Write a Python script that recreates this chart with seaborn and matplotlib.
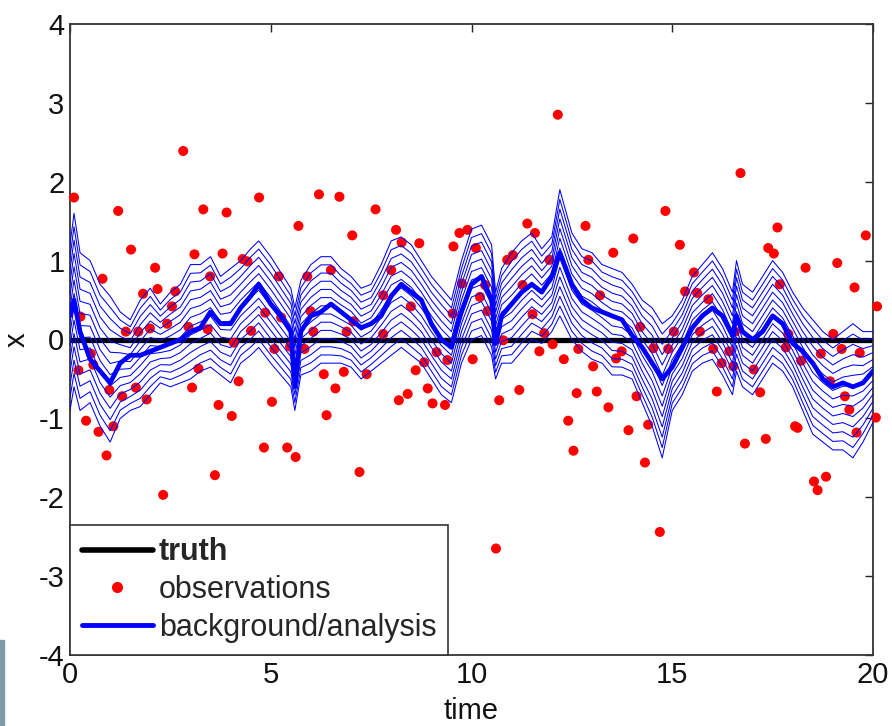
import numpy as np
import pandas as pd
import matplotlib
matplotlib.use("Agg")
import matplotlib.pyplot as plt
import seaborn as sns
from matplotlib.lines import Line2D
from matplotlib.patches import Rectangle

sns.set_theme(style="white")
plt.rcParams["font.family"] = ["Liberation Sans", "DejaVu Sans"]
plt.rcParams["axes.unicode_minus"] = False

# ---- observations ----
obs_time = [
    0.10, 0.21, 0.26, 0.40, 0.52, 0.58, 0.71, 0.81, 0.91, 0.98, 1.08, 1.20, 1.30, 1.39,
    1.52, 1.64, 1.70, 1.82, 1.91, 1.99, 2.12, 2.18, 2.32, 2.42, 2.54, 2.62, 2.82, 2.95,
    3.04, 3.10, 3.20, 3.32, 3.43, 3.49, 3.61, 3.70, 3.80, 3.90, 4.03, 4.08, 4.20, 4.30,
    4.42, 4.51, 4.71, 4.83, 4.86, 5.03, 5.09, 5.20, 5.26, 5.41, 5.48, 5.62, 5.69, 5.84,
    5.91, 5.99, 6.06, 6.20, 6.32, 6.39, 6.50, 6.61, 6.71, 6.82, 6.89, 7.03, 7.06, 7.21,
    7.39, 7.61, 7.80, 7.80, 8.00, 8.12, 8.19, 8.26, 8.41, 8.49, 8.61, 8.70, 8.82, 8.91,
    9.03, 9.13, 9.34, 9.40, 9.53, 9.55, 9.70, 9.76, 9.90, 10.03, 10.11, 10.21, 10.34,
    10.40, 10.61, 10.69, 10.79, 10.89, 11.03, 11.19, 11.27, 11.39, 11.52, 11.58, 11.69,
    11.81, 11.94, 12.02, 12.15, 12.30, 12.41, 12.54, 12.62, 12.66, 12.84, 12.91, 13.03,
    13.12, 13.20, 13.41, 13.53, 13.60, 13.74, 13.91, 14.03, 14.11, 14.20, 14.32, 14.40,
    14.53, 14.69, 14.83, 14.90, 15.04, 15.19, 15.32, 15.54, 15.62, 15.69, 15.90, 16.02,
    16.11, 16.23, 16.42, 16.52, 16.56, 16.70, 16.81, 17.03, 17.19, 17.33, 17.39, 17.53,
    17.62, 17.68, 17.83, 17.89, 18.06, 18.12, 18.21, 18.32, 18.53, 18.62, 18.70, 18.83,
    18.93, 19.01, 19.11, 19.22, 19.30, 19.41, 19.54, 19.59, 19.67, 19.82, 20.07, 20.10,
]
obs_value = [
    1.80, -0.39, 0.29, -1.03, -0.18, -0.32, -1.17, 0.77, -1.47, -0.64, -1.10, 1.63, -0.72, 0.10,
    1.14, -0.61, 0.10, 0.58, -0.76, 0.14, 0.91, 0.64, -1.97, 0.20, 0.42, 0.61, 2.39, 0.16,
    -0.61, 1.08, -0.37, 1.65, 0.13, 0.80, -1.72, -0.83, 1.09, 1.61, -0.97, -0.04, -0.53, 1.02,
    0.99, 0.11, 1.80, -1.37, 0.34, -0.79, -0.12, 0.80, 0.28, -1.37, -0.09, -1.49, 1.44, -0.12,
    0.80, 0.36, 0.10, 1.84, -0.44, -0.96, 0.88, -0.62, 1.81, -0.41, 0.10, 1.32, 0.23, -1.68,
    -0.44, 1.65, 0.56, 0.07, 0.88, 1.39, -0.77, 1.23, -0.69, 0.42, -0.39, 1.22, -0.29, -0.62,
    -0.81, -0.16, -0.83, -0.26, 0.33, 1.18, 1.35, 0.71, 1.39, -0.25, 1.16, 0.54, 0.69,
    0.36, -2.65, -0.77, -0.01, 1.01, 1.07, -0.64, 0.69, 1.47, 0.32, 1.35, -0.15,
    0.08, 1.01, -0.06, 2.85, -0.25, -1.03, -1.41, -0.68, -0.12, 1.44, 1.01, -0.34,
    -0.66, 0.56, -0.86, 1.10, -0.24, -0.15, -1.15, 1.28, -0.72, 0.16, -1.56, -1.08,
    -0.11, -2.44, 1.63, -0.12, 0.10, 1.20, 0.61, 0.85, 0.59, 0.10, 0.51, -0.12,
    -0.66, -0.30, -0.15, -0.34, 0.10, 2.11, -1.32, -0.38, -0.67, -1.26, 1.16, 1.09,
    1.42, 0.70, -0.10, 0.07, -1.10, -1.12, -0.27, 0.91, -1.80, -1.91, -0.18, -1.74,
    -0.53, 0.07, 0.97, -0.12, -0.72, -0.89, 0.66, -1.18, -0.17, 1.32, -0.99, 0.42,
]

# ---- ensemble (background/analysis): mean and envelope ----
ens_time = [
    0.0, 0.1, 0.25, 0.5, 0.75, 1.0, 1.25, 1.5, 1.75, 2.0, 2.25, 2.5, 2.75, 3.0, 3.25, 3.5,
    3.75, 4.0, 4.25, 4.5, 4.7, 5.0, 5.25, 5.5, 5.6, 5.75, 6.0, 6.25, 6.5, 6.75, 7.0, 7.25,
    7.5, 7.75, 8.0, 8.25, 8.5, 8.75, 9.0, 9.25, 9.5, 9.6, 9.75, 10.0, 10.25, 10.5, 10.6,
    10.75, 11.0, 11.25, 11.5, 11.75, 12.0, 12.2, 12.5, 12.75, 13.0, 13.25, 13.5, 13.75,
    14.0, 14.25, 14.5, 14.75, 15.0, 15.25, 15.5, 15.75, 16.0, 16.25, 16.5, 16.6, 16.75,
    17.0, 17.25, 17.5, 17.75, 18.0, 18.25, 18.5, 18.75, 19.0, 19.25, 19.5, 19.75, 20.0,
]
ens_mean = [
    0.3, 0.5, 0.1, -0.25, -0.4, -0.55, -0.3, -0.2, -0.2, -0.15, -0.1, -0.05, 0.0, 0.1, 0.15, 0.35,
    0.2, 0.2, 0.4, 0.55, 0.7, 0.45, 0.3, 0.1, -0.6, 0.1, 0.3, 0.35, 0.45, 0.35, 0.25, 0.15,
    0.2, 0.3, 0.55, 0.7, 0.6, 0.5, 0.2, 0.0, -0.1, 0.1, 0.35, 0.7, 0.8, 0.5, -0.05,
    0.3, 0.45, 0.6, 0.7, 0.6, 0.8, 1.1, 0.7, 0.5, 0.4, 0.35, 0.3, 0.25,
    0.05, -0.1, -0.3, -0.5, -0.35, -0.1, 0.15, 0.3, 0.4, 0.3, 0.05, 0.3, 0.1,
    0.0, 0.1, 0.3, 0.2, -0.05, -0.15, -0.3, -0.5, -0.6, -0.55, -0.6, -0.55, -0.4,
]
ens_upper = [
    1.2, 1.6, 1.1, 1.0, 0.7, 0.55, 0.35, 0.25, 0.5, 0.65, 0.45, 0.6, 0.7, 0.95, 0.95, 1.05,
    0.8, 0.9, 1.0, 1.15, 1.25, 1.05, 0.85, 0.65, 0.4, 0.75, 0.95, 1.05, 1.05, 0.9, 0.8, 0.65,
    0.7, 0.95, 1.25, 1.3, 1.2, 1.0, 0.8, 0.65, 0.5, 0.7, 1.0, 1.4, 1.45, 1.2, 0.6,
    0.9, 1.1, 1.25, 1.35, 1.15, 1.3, 1.9, 1.35, 1.15, 1.1, 0.95, 0.9, 0.85,
    0.7, 0.5, 0.4, 0.2, 0.3, 0.5, 0.8, 0.95, 1.1, 0.9, 0.6, 1.0, 0.7,
    0.6, 0.8, 1.0, 0.85, 0.6, 0.4, 0.25, 0.1, 0.0, 0.1, 0.2, 0.1, 0.1,
]
ens_lower = [
    -0.9, -0.6, -0.9, -0.8, -1.1, -1.3, -1.0, -0.9, -0.85, -0.7, -0.55, -0.6, -0.55, -0.5, -0.4, -0.35,
    -0.45, -0.55, -0.3, -0.2, -0.1, -0.3, -0.45, -0.6, -0.9, -0.45, -0.4, -0.3, -0.3, -0.3, -0.35, -0.5,
    -0.4, -0.3, -0.2, -0.1, -0.2, -0.3, -0.5, -0.7, -0.8, -0.6, -0.3, 0.0, 0.05, -0.2, -0.5,
    -0.3, -0.3, -0.15, 0.0, -0.05, 0.1, 0.3, 0.0, -0.15, -0.25, -0.3, -0.45, -0.45,
    -0.5, -0.8, -1.1, -1.5, -0.9, -0.7, -0.4, -0.3, -0.25, -0.45, -0.7, -0.4, -0.6,
    -0.7, -0.5, -0.3, -0.4, -0.6, -0.9, -1.2, -1.3, -1.4, -1.4, -1.5, -1.3, -1.05,
]
n_members = 14

# ---- truth ----
truth_time = [0.0, 20.0]
truth_value = [0.0, 0.0]

x_ticks = [0, 5, 10, 15, 20]
y_ticks = [-4, -3, -2, -1, 0, 1, 2, 3, 4]

fig = plt.figure(figsize=(8.92, 7.26), dpi=100)
ax = fig.add_axes([70 / 892, 1 - 655 / 726, 803 / 892, 631 / 726])

# truth
sns.lineplot(x=truth_time, y=truth_value, color="black", linewidth=3.8, ax=ax, zorder=2)

# observations
sns.scatterplot(x=obs_time, y=obs_value, color="#ff0000", s=52, edgecolor="none",
                ax=ax, zorder=3, clip_on=False)

# ensemble members spread across the envelope
rows = []
for k in range(n_members):
    frac = k / (n_members - 1)
    for t, lo, hi in zip(ens_time, ens_lower, ens_upper):
        rows.append({"time": t, "x": lo + frac * (hi - lo), "member": k})
members = pd.DataFrame(rows)
sns.lineplot(data=members, x="time", y="x", units="member", estimator=None,
             color="#0000ff", linewidth=0.75, ax=ax, legend=False, sort=False, zorder=4)

# ensemble mean
sns.lineplot(x=ens_time, y=ens_mean, color="#0000ff", linewidth=3.4, ax=ax, zorder=5)

ax.set_xlim(0, 20)
ax.set_ylim(-4, 4)
ax.set_xticks(x_ticks)
ax.set_xticklabels([str(v) for v in x_ticks])
ax.set_yticks(y_ticks)
ax.set_yticklabels([str(v) for v in y_ticks])
ax.tick_params(direction="in", length=6, width=1.0, colors="#222222",
               labelsize=21, top=True, right=True, labelcolor="#111111", pad=4)
for sp in ax.spines.values():
    sp.set_color("#333333")
    sp.set_linewidth(1.3)
ax.set_xlabel("time", fontsize=21, labelpad=6, color="#111111")
ax.set_ylabel("x", fontsize=21, labelpad=6, color="#111111")

handles = [
    Line2D([], [], color="black", linewidth=4),
    Line2D([], [], color="#ff0000", marker="o", linestyle="none", markersize=8,
           markeredgecolor="none"),
    Line2D([], [], color="#0000ff", linewidth=3.5),
]
leg = ax.legend(handles, ["truth", "observations", "background/analysis"],
                loc="lower left", bbox_to_anchor=(0, 0), borderaxespad=0,
                frameon=True, fancybox=False, edgecolor="#333333", framealpha=1,
                fontsize=22, handlelength=2.3, handletextpad=0.2, borderpad=0.4,
                labelspacing=0.25)
leg.get_frame().set_linewidth(1.2)
leg.get_texts()[0].set_fontweight("bold")
leg.set_zorder(10)

fig.patches.append(Rectangle((0, 0), 4 / 892, 86 / 726, transform=fig.transFigure,
                             color="#7f9aa8", zorder=0))

fig.savefig("out.png", dpi=100)
